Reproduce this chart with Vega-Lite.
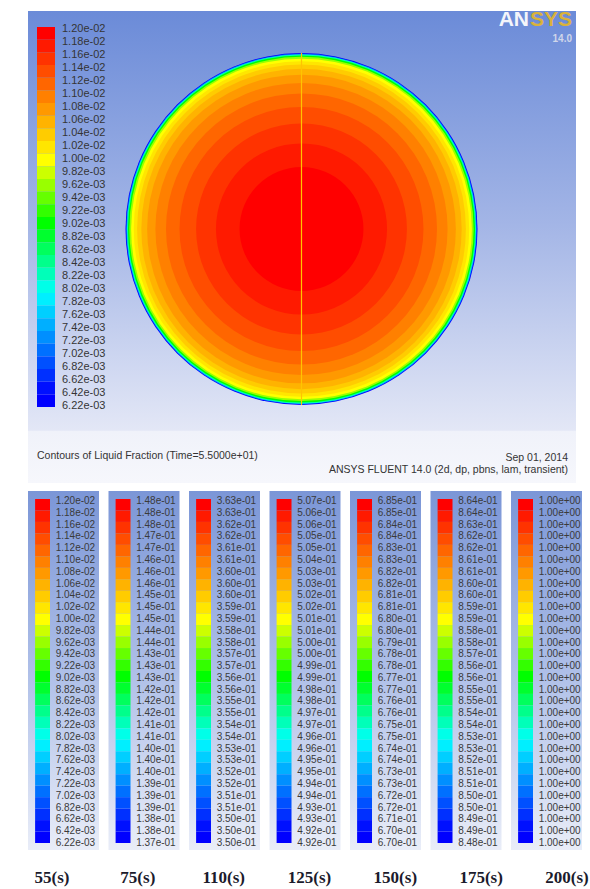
{
  "$schema": "https://vega.github.io/schema/vega-lite/v6.json",
  "background": "white",
  "padding": {"left": 28, "top": 8, "right": 0, "bottom": 0},
  "config": {"view": {"stroke": null}, "font": "Liberation Sans", "concat": {"spacing": 8}},
  "datasets": {
    "rings": [
      {"r": 1.0, "level": 29}, {"r": 0.9955, "level": 24}, {"r": 0.9915, "level": 19},
      {"r": 0.986, "level": 15}, {"r": 0.978, "level": 12}, {"r": 0.968, "level": 10},
      {"r": 0.953, "level": 9}, {"r": 0.934, "level": 8}, {"r": 0.91, "level": 7},
      {"r": 0.877, "level": 6}, {"r": 0.83, "level": 5}, {"r": 0.77, "level": 4},
      {"r": 0.693, "level": 3}, {"r": 0.599, "level": 2}, {"r": 0.486, "level": 1},
      {"r": 0.352, "level": 0}
    ],
    "notes": [
      {"id": "caption", "text": "Contours of Liquid Fraction  (Time=5.5000e+01)"},
      {"id": "date", "text": "Sep 01, 2014"},
      {"id": "solver", "text": "ANSYS FLUENT 14.0 (2d, dp, pbns, lam, transient)"},
      {"id": "logo1", "text": "AN"},
      {"id": "logo2", "text": "SYS"},
      {"id": "version", "text": "14.0"}
    ],
    "times": [
      {"time": 55, "caption": "55(s)"}, {"time": 75, "caption": "75(s)"}, {"time": 110, "caption": "110(s)"},
      {"time": 125, "caption": "125(s)"}, {"time": 150, "caption": "150(s)"}, {"time": 175, "caption": "175(s)"},
      {"time": 200, "caption": "200(s)"}
    ],
    "bars": [
      {"time":55,"level":0,"label":"1.20e-02"},{"time":55,"level":1,"label":"1.18e-02"},{"time":55,"level":2,"label":"1.16e-02"},{"time":55,"level":3,"label":"1.14e-02"},{"time":55,"level":4,"label":"1.12e-02"},{"time":55,"level":5,"label":"1.10e-02"},{"time":55,"level":6,"label":"1.08e-02"},{"time":55,"level":7,"label":"1.06e-02"},{"time":55,"level":8,"label":"1.04e-02"},{"time":55,"level":9,"label":"1.02e-02"},{"time":55,"level":10,"label":"1.00e-02"},{"time":55,"level":11,"label":"9.82e-03"},{"time":55,"level":12,"label":"9.62e-03"},{"time":55,"level":13,"label":"9.42e-03"},{"time":55,"level":14,"label":"9.22e-03"},{"time":55,"level":15,"label":"9.02e-03"},{"time":55,"level":16,"label":"8.82e-03"},{"time":55,"level":17,"label":"8.62e-03"},{"time":55,"level":18,"label":"8.42e-03"},{"time":55,"level":19,"label":"8.22e-03"},{"time":55,"level":20,"label":"8.02e-03"},{"time":55,"level":21,"label":"7.82e-03"},{"time":55,"level":22,"label":"7.62e-03"},{"time":55,"level":23,"label":"7.42e-03"},{"time":55,"level":24,"label":"7.22e-03"},{"time":55,"level":25,"label":"7.02e-03"},{"time":55,"level":26,"label":"6.82e-03"},{"time":55,"level":27,"label":"6.62e-03"},{"time":55,"level":28,"label":"6.42e-03"},{"time":55,"level":29,"label":"6.22e-03"},
      {"time":75,"level":0,"label":"1.48e-01"},{"time":75,"level":1,"label":"1.48e-01"},{"time":75,"level":2,"label":"1.48e-01"},{"time":75,"level":3,"label":"1.47e-01"},{"time":75,"level":4,"label":"1.47e-01"},{"time":75,"level":5,"label":"1.46e-01"},{"time":75,"level":6,"label":"1.46e-01"},{"time":75,"level":7,"label":"1.46e-01"},{"time":75,"level":8,"label":"1.45e-01"},{"time":75,"level":9,"label":"1.45e-01"},{"time":75,"level":10,"label":"1.45e-01"},{"time":75,"level":11,"label":"1.44e-01"},{"time":75,"level":12,"label":"1.44e-01"},{"time":75,"level":13,"label":"1.43e-01"},{"time":75,"level":14,"label":"1.43e-01"},{"time":75,"level":15,"label":"1.43e-01"},{"time":75,"level":16,"label":"1.42e-01"},{"time":75,"level":17,"label":"1.42e-01"},{"time":75,"level":18,"label":"1.42e-01"},{"time":75,"level":19,"label":"1.41e-01"},{"time":75,"level":20,"label":"1.41e-01"},{"time":75,"level":21,"label":"1.40e-01"},{"time":75,"level":22,"label":"1.40e-01"},{"time":75,"level":23,"label":"1.40e-01"},{"time":75,"level":24,"label":"1.39e-01"},{"time":75,"level":25,"label":"1.39e-01"},{"time":75,"level":26,"label":"1.39e-01"},{"time":75,"level":27,"label":"1.38e-01"},{"time":75,"level":28,"label":"1.38e-01"},{"time":75,"level":29,"label":"1.37e-01"},
      {"time":110,"level":0,"label":"3.63e-01"},{"time":110,"level":1,"label":"3.63e-01"},{"time":110,"level":2,"label":"3.62e-01"},{"time":110,"level":3,"label":"3.62e-01"},{"time":110,"level":4,"label":"3.61e-01"},{"time":110,"level":5,"label":"3.61e-01"},{"time":110,"level":6,"label":"3.60e-01"},{"time":110,"level":7,"label":"3.60e-01"},{"time":110,"level":8,"label":"3.60e-01"},{"time":110,"level":9,"label":"3.59e-01"},{"time":110,"level":10,"label":"3.59e-01"},{"time":110,"level":11,"label":"3.58e-01"},{"time":110,"level":12,"label":"3.58e-01"},{"time":110,"level":13,"label":"3.57e-01"},{"time":110,"level":14,"label":"3.57e-01"},{"time":110,"level":15,"label":"3.56e-01"},{"time":110,"level":16,"label":"3.56e-01"},{"time":110,"level":17,"label":"3.55e-01"},{"time":110,"level":18,"label":"3.55e-01"},{"time":110,"level":19,"label":"3.54e-01"},{"time":110,"level":20,"label":"3.54e-01"},{"time":110,"level":21,"label":"3.53e-01"},{"time":110,"level":22,"label":"3.53e-01"},{"time":110,"level":23,"label":"3.52e-01"},{"time":110,"level":24,"label":"3.52e-01"},{"time":110,"level":25,"label":"3.51e-01"},{"time":110,"level":26,"label":"3.51e-01"},{"time":110,"level":27,"label":"3.50e-01"},{"time":110,"level":28,"label":"3.50e-01"},{"time":110,"level":29,"label":"3.50e-01"},
      {"time":125,"level":0,"label":"5.07e-01"},{"time":125,"level":1,"label":"5.06e-01"},{"time":125,"level":2,"label":"5.06e-01"},{"time":125,"level":3,"label":"5.05e-01"},{"time":125,"level":4,"label":"5.05e-01"},{"time":125,"level":5,"label":"5.04e-01"},{"time":125,"level":6,"label":"5.03e-01"},{"time":125,"level":7,"label":"5.03e-01"},{"time":125,"level":8,"label":"5.02e-01"},{"time":125,"level":9,"label":"5.02e-01"},{"time":125,"level":10,"label":"5.01e-01"},{"time":125,"level":11,"label":"5.01e-01"},{"time":125,"level":12,"label":"5.00e-01"},{"time":125,"level":13,"label":"5.00e-01"},{"time":125,"level":14,"label":"4.99e-01"},{"time":125,"level":15,"label":"4.99e-01"},{"time":125,"level":16,"label":"4.98e-01"},{"time":125,"level":17,"label":"4.98e-01"},{"time":125,"level":18,"label":"4.97e-01"},{"time":125,"level":19,"label":"4.97e-01"},{"time":125,"level":20,"label":"4.96e-01"},{"time":125,"level":21,"label":"4.96e-01"},{"time":125,"level":22,"label":"4.95e-01"},{"time":125,"level":23,"label":"4.95e-01"},{"time":125,"level":24,"label":"4.94e-01"},{"time":125,"level":25,"label":"4.94e-01"},{"time":125,"level":26,"label":"4.93e-01"},{"time":125,"level":27,"label":"4.93e-01"},{"time":125,"level":28,"label":"4.92e-01"},{"time":125,"level":29,"label":"4.92e-01"},
      {"time":150,"level":0,"label":"6.85e-01"},{"time":150,"level":1,"label":"6.85e-01"},{"time":150,"level":2,"label":"6.84e-01"},{"time":150,"level":3,"label":"6.84e-01"},{"time":150,"level":4,"label":"6.83e-01"},{"time":150,"level":5,"label":"6.83e-01"},{"time":150,"level":6,"label":"6.82e-01"},{"time":150,"level":7,"label":"6.82e-01"},{"time":150,"level":8,"label":"6.81e-01"},{"time":150,"level":9,"label":"6.81e-01"},{"time":150,"level":10,"label":"6.80e-01"},{"time":150,"level":11,"label":"6.80e-01"},{"time":150,"level":12,"label":"6.79e-01"},{"time":150,"level":13,"label":"6.78e-01"},{"time":150,"level":14,"label":"6.78e-01"},{"time":150,"level":15,"label":"6.77e-01"},{"time":150,"level":16,"label":"6.77e-01"},{"time":150,"level":17,"label":"6.76e-01"},{"time":150,"level":18,"label":"6.76e-01"},{"time":150,"level":19,"label":"6.75e-01"},{"time":150,"level":20,"label":"6.75e-01"},{"time":150,"level":21,"label":"6.74e-01"},{"time":150,"level":22,"label":"6.74e-01"},{"time":150,"level":23,"label":"6.73e-01"},{"time":150,"level":24,"label":"6.73e-01"},{"time":150,"level":25,"label":"6.72e-01"},{"time":150,"level":26,"label":"6.72e-01"},{"time":150,"level":27,"label":"6.71e-01"},{"time":150,"level":28,"label":"6.70e-01"},{"time":150,"level":29,"label":"6.70e-01"},
      {"time":175,"level":0,"label":"8.64e-01"},{"time":175,"level":1,"label":"8.64e-01"},{"time":175,"level":2,"label":"8.63e-01"},{"time":175,"level":3,"label":"8.62e-01"},{"time":175,"level":4,"label":"8.62e-01"},{"time":175,"level":5,"label":"8.61e-01"},{"time":175,"level":6,"label":"8.61e-01"},{"time":175,"level":7,"label":"8.60e-01"},{"time":175,"level":8,"label":"8.60e-01"},{"time":175,"level":9,"label":"8.59e-01"},{"time":175,"level":10,"label":"8.59e-01"},{"time":175,"level":11,"label":"8.58e-01"},{"time":175,"level":12,"label":"8.58e-01"},{"time":175,"level":13,"label":"8.57e-01"},{"time":175,"level":14,"label":"8.56e-01"},{"time":175,"level":15,"label":"8.56e-01"},{"time":175,"level":16,"label":"8.55e-01"},{"time":175,"level":17,"label":"8.55e-01"},{"time":175,"level":18,"label":"8.54e-01"},{"time":175,"level":19,"label":"8.54e-01"},{"time":175,"level":20,"label":"8.53e-01"},{"time":175,"level":21,"label":"8.53e-01"},{"time":175,"level":22,"label":"8.52e-01"},{"time":175,"level":23,"label":"8.51e-01"},{"time":175,"level":24,"label":"8.51e-01"},{"time":175,"level":25,"label":"8.50e-01"},{"time":175,"level":26,"label":"8.50e-01"},{"time":175,"level":27,"label":"8.49e-01"},{"time":175,"level":28,"label":"8.49e-01"},{"time":175,"level":29,"label":"8.48e-01"},
      {"time":200,"level":0,"label":"1.00e+00"},{"time":200,"level":1,"label":"1.00e+00"},{"time":200,"level":2,"label":"1.00e+00"},{"time":200,"level":3,"label":"1.00e+00"},{"time":200,"level":4,"label":"1.00e+00"},{"time":200,"level":5,"label":"1.00e+00"},{"time":200,"level":6,"label":"1.00e+00"},{"time":200,"level":7,"label":"1.00e+00"},{"time":200,"level":8,"label":"1.00e+00"},{"time":200,"level":9,"label":"1.00e+00"},{"time":200,"level":10,"label":"1.00e+00"},{"time":200,"level":11,"label":"1.00e+00"},{"time":200,"level":12,"label":"1.00e+00"},{"time":200,"level":13,"label":"1.00e+00"},{"time":200,"level":14,"label":"1.00e+00"},{"time":200,"level":15,"label":"1.00e+00"},{"time":200,"level":16,"label":"1.00e+00"},{"time":200,"level":17,"label":"1.00e+00"},{"time":200,"level":18,"label":"1.00e+00"},{"time":200,"level":19,"label":"1.00e+00"},{"time":200,"level":20,"label":"1.00e+00"},{"time":200,"level":21,"label":"1.00e+00"},{"time":200,"level":22,"label":"1.00e+00"},{"time":200,"level":23,"label":"1.00e+00"},{"time":200,"level":24,"label":"1.00e+00"},{"time":200,"level":25,"label":"1.00e+00"},{"time":200,"level":26,"label":"1.00e+00"},{"time":200,"level":27,"label":"1.00e+00"},{"time":200,"level":28,"label":"1.00e+00"},{"time":200,"level":29,"label":"1.00e+00"}
    ]
  },
  "vconcat": [
    {
      "width": 548,
      "height": 472,
      "layer": [
        {
          "data": {"values": [{}]},
          "mark": {"type": "rect", "color": {"gradient": "linear", "x1": 0, "y1": 0, "x2": 0, "y2": 1, "stops": [
            {"offset": 0, "color": "#6b8bd8"}, {"offset": 0.45, "color": "#a3b5e6"},
            {"offset": 0.888, "color": "#e3e7f6"}, {"offset": 0.891, "color": "#f0f2fa"},
            {"offset": 1, "color": "#f6f7fc"}]}},
          "encoding": {}
        },
        {
          "data": {"name": "bars"},
          "transform": [{"filter": "datum.time == 55"}],
          "mark": {"type": "rect"},
          "encoding": {
            "y": {"field": "level", "type": "ordinal", "scale": {"type": "band", "range": [16, 396], "paddingInner": 0, "paddingOuter": 0}, "axis": null},
            "x": {"datum": -1.5028, "type": "quantitative", "scale": {"domain": [-1.554, 1.5597], "nice": false, "zero": false}, "axis": null},
            "x2": {"datum": -1.4006},
            "color": {"field": "level", "type": "quantitative", "scale": {"type": "linear", "domain": [0, 10, 15, 20.5, 28.5], "range": ["#ff0000", "#ffff00", "#00ff00", "#00ffff", "#0000ff"], "interpolate": "rgb", "clamp": true}, "legend": null}
          }
        },
        {
          "data": {"name": "bars"},
          "transform": [{"filter": "datum.time == 55"}],
          "mark": {"type": "text", "align": "left", "baseline": "middle", "fontSize": 11, "color": "#353535"},
          "encoding": {
            "y": {"field": "level", "type": "ordinal", "scale": {"type": "point", "range": [18, 395], "padding": 0}, "axis": null},
            "x": {"datum": -1.3608, "type": "quantitative", "scale": {"domain": [-1.554, 1.5597], "nice": false, "zero": false}, "axis": null},
            "text": {"field": "label"}
          }
        },
        {
          "data": {"name": "rings"},
          "mark": {"type": "point", "shape": "circle", "filled": true, "opacity": 1, "strokeWidth": 0},
          "encoding": {
            "x": {"datum": 0, "type": "quantitative", "scale": {"domain": [-1.554, 1.5597], "nice": false, "zero": false}, "axis": null},
            "y": {"datum": 0, "type": "quantitative", "scale": {"domain": [-1.4432, 1.2386], "nice": false, "zero": false}, "axis": null},
            "size": {"field": "r", "type": "quantitative", "scale": {"type": "pow", "exponent": 2, "domain": [0, 1], "range": [0, 123904]}, "legend": null},
            "color": {"field": "level", "type": "quantitative", "scale": {"type": "linear", "domain": [0, 10, 15, 20.5, 28.5], "range": ["#ff0000", "#ffff00", "#00ff00", "#00ffff", "#0000ff"], "interpolate": "rgb", "clamp": true}, "legend": null}
          }
        },
        {
          "data": {"values": [{}]},
          "mark": {"type": "rule", "color": "#ffc400", "strokeWidth": 1.2},
          "encoding": {
            "x": {"datum": 0, "type": "quantitative", "scale": {"domain": [-1.554, 1.5597], "nice": false, "zero": false}, "axis": null},
            "y": {"datum": -1, "type": "quantitative", "scale": {"domain": [-1.4432, 1.2386], "nice": false, "zero": false}, "axis": null},
            "y2": {"datum": 1}
          }
        },
        {
          "data": {"name": "notes"},
          "transform": [{"filter": "datum.id == 'caption'"}],
          "mark": {"type": "text", "align": "left", "baseline": "middle", "fontSize": 10.5, "color": "#333333"},
          "encoding": {
            "x": {"datum": -1.5028, "type": "quantitative", "scale": {"domain": [-1.554, 1.5597], "nice": false, "zero": false}, "axis": null},
            "y": {"datum": -1.2898, "type": "quantitative", "scale": {"domain": [-1.4432, 1.2386], "nice": false, "zero": false}, "axis": null},
            "text": {"field": "text"}
          }
        },
        {
          "data": {"name": "notes"},
          "transform": [{"filter": "datum.id == 'date'"}],
          "mark": {"type": "text", "align": "right", "baseline": "middle", "fontSize": 10.5, "color": "#333333"},
          "encoding": {
            "x": {"datum": 1.5142, "type": "quantitative", "scale": {"domain": [-1.554, 1.5597], "nice": false, "zero": false}, "axis": null},
            "y": {"datum": -1.3011, "type": "quantitative", "scale": {"domain": [-1.4432, 1.2386], "nice": false, "zero": false}, "axis": null},
            "text": {"field": "text"}
          }
        },
        {
          "data": {"name": "notes"},
          "transform": [{"filter": "datum.id == 'solver'"}],
          "mark": {"type": "text", "align": "right", "baseline": "middle", "fontSize": 10.5, "color": "#333333"},
          "encoding": {
            "x": {"datum": 1.5142, "type": "quantitative", "scale": {"domain": [-1.554, 1.5597], "nice": false, "zero": false}, "axis": null},
            "y": {"datum": -1.3693, "type": "quantitative", "scale": {"domain": [-1.4432, 1.2386], "nice": false, "zero": false}, "axis": null},
            "text": {"field": "text"}
          }
        },
        {
          "data": {"name": "notes"},
          "transform": [{"filter": "datum.id == 'logo1'"}],
          "mark": {"type": "text", "align": "right", "baseline": "alphabetic", "fontSize": 21, "fontWeight": "bold", "color": "#f4f5fa"},
          "encoding": {
            "x": {"datum": 1.2926, "type": "quantitative", "scale": {"domain": [-1.554, 1.5597], "nice": false, "zero": false}, "axis": null},
            "y": {"datum": 1.1534, "type": "quantitative", "scale": {"domain": [-1.4432, 1.2386], "nice": false, "zero": false}, "axis": null},
            "text": {"field": "text"}
          }
        },
        {
          "data": {"name": "notes"},
          "transform": [{"filter": "datum.id == 'logo2'"}],
          "mark": {"type": "text", "align": "right", "baseline": "alphabetic", "fontSize": 21, "fontWeight": "bold", "color": "#d9b23a"},
          "encoding": {
            "x": {"datum": 1.5369, "type": "quantitative", "scale": {"domain": [-1.554, 1.5597], "nice": false, "zero": false}, "axis": null},
            "y": {"datum": 1.1534, "type": "quantitative", "scale": {"domain": [-1.4432, 1.2386], "nice": false, "zero": false}, "axis": null},
            "text": {"field": "text"}
          }
        },
        {
          "data": {"name": "notes"},
          "transform": [{"filter": "datum.id == 'version'"}],
          "mark": {"type": "text", "align": "right", "baseline": "middle", "fontSize": 10, "fontWeight": "bold", "color": "#cfd6ea"},
          "encoding": {
            "x": {"datum": 1.5369, "type": "quantitative", "scale": {"domain": [-1.554, 1.5597], "nice": false, "zero": false}, "axis": null},
            "y": {"datum": 1.0795, "type": "quantitative", "scale": {"domain": [-1.4432, 1.2386], "nice": false, "zero": false}, "axis": null},
            "text": {"field": "text"}
          }
        }
      ],
      "resolve": {"scale": {"y": "independent"}}
    },
    {
      "data": {"name": "bars"},
      "facet": {
        "column": {
          "field": "time", "type": "ordinal", "sort": [55, 75, 110, 125, 150, 175, 200], "title": null,
          "header": {"labels": false, "title": null}
        }
      },
      "spacing": 9.5,
      "spec": {
        "width": 71,
        "height": 359,
        "layer": [
          {
            "transform": [{"filter": "datum.level == 0"}],
            "mark": {"type": "rect", "color": {"gradient": "linear", "x1": 0, "y1": 0, "x2": 0, "y2": 1, "stops": [
              {"offset": 0, "color": "#7b96d7"}, {"offset": 0.5, "color": "#aebfe8"}, {"offset": 1, "color": "#e9edf8"}]}},
            "encoding": {}
          },
          {
            "mark": {"type": "rect"},
            "encoding": {
              "y": {"field": "level", "type": "ordinal", "scale": {"type": "band", "range": [8, 352], "paddingInner": 0, "paddingOuter": 0}, "axis": null},
              "x": {"datum": 0.1, "type": "quantitative", "scale": {"domain": [0, 1], "nice": false, "zero": false}, "axis": null},
              "x2": {"datum": 0.31},
              "color": {"field": "level", "type": "quantitative", "scale": {"type": "linear", "domain": [0, 10, 15, 20.5, 28.5], "range": ["#ff0000", "#ffff00", "#00ff00", "#00ffff", "#0000ff"], "interpolate": "rgb", "clamp": true}, "legend": null}
            }
          },
          {
            "mark": {"type": "text", "align": "left", "baseline": "middle", "fontSize": 10, "color": "#3a3a3a"},
            "encoding": {
              "y": {"field": "level", "type": "ordinal", "scale": {"type": "point", "range": [10, 352], "padding": 0}, "axis": null},
              "x": {"datum": 0.39, "type": "quantitative", "scale": {"domain": [0, 1], "nice": false, "zero": false}, "axis": null},
              "text": {"field": "label"}
            }
          }
        ],
        "resolve": {"scale": {"y": "independent"}}
      }
    },
    {
      "data": {"name": "times"},
      "width": 554,
      "height": 30,
      "mark": {"type": "text", "align": "center", "baseline": "middle", "dy": 5, "font": "Liberation Serif", "fontWeight": "bold", "fontSize": 17, "color": "#1b1b2c"},
      "encoding": {
        "x": {"field": "time", "type": "ordinal", "sort": [55, 75, 110, 125, 150, 175, 200], "scale": {"type": "point", "range": [24, 539], "padding": 0}, "axis": null},
        "text": {"field": "caption"}
      }
    }
  ]
}
